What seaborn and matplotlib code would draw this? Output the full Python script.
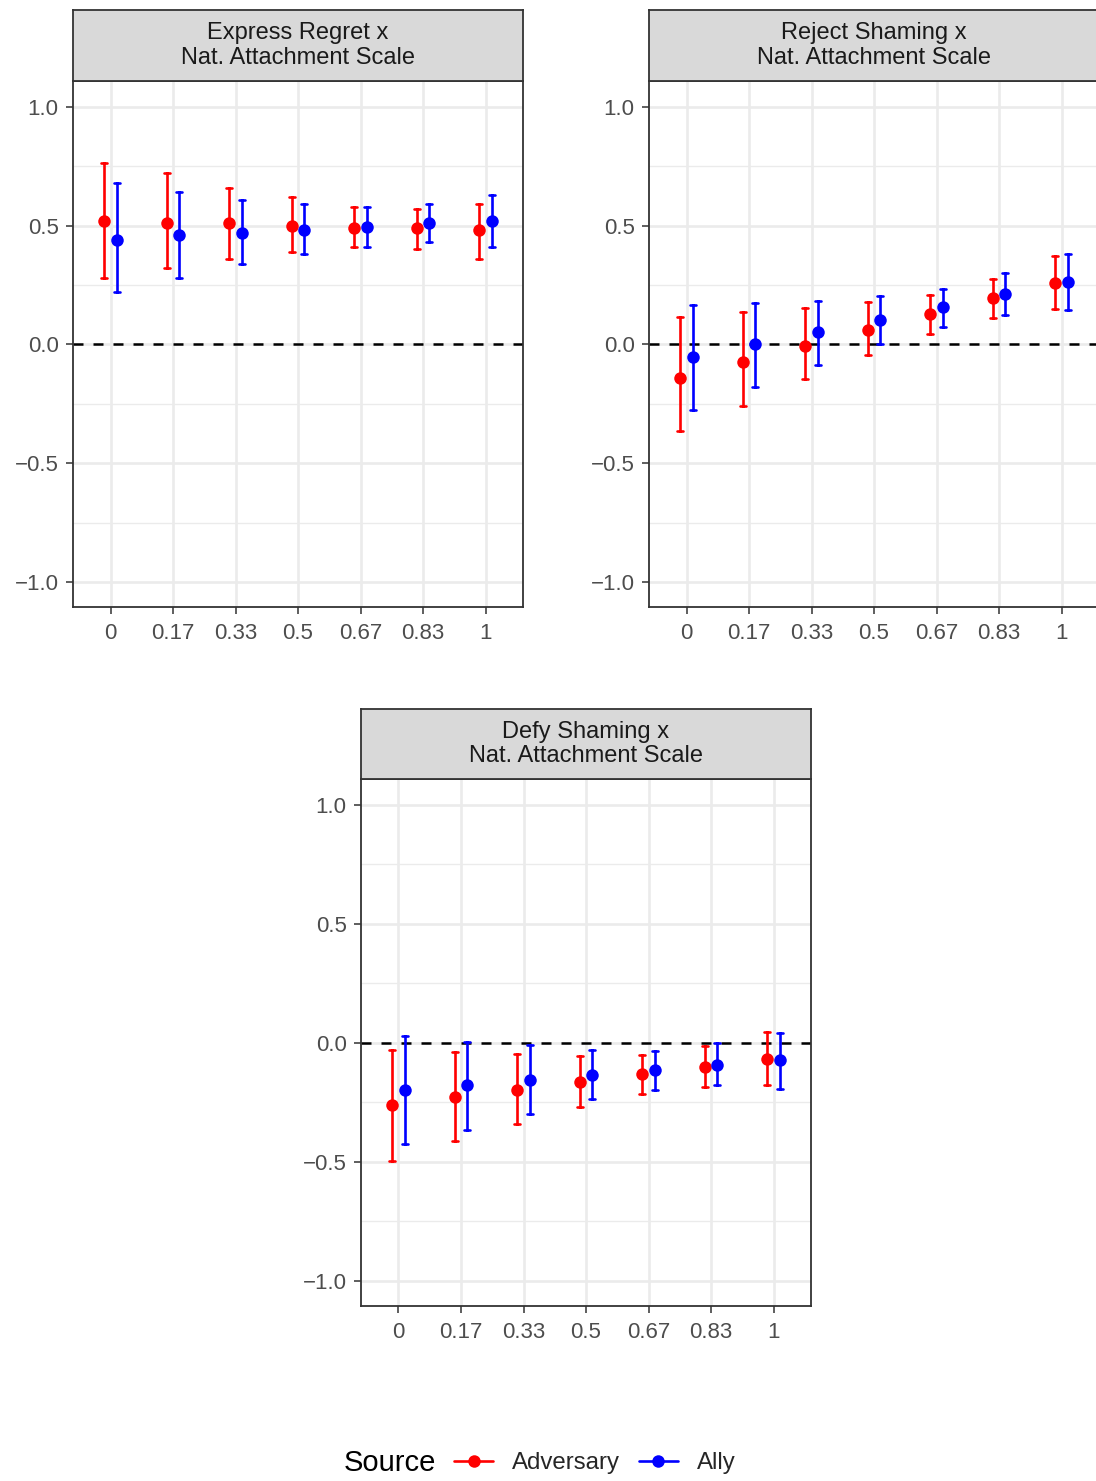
import numpy as np
import pandas as pd
import seaborn as sns
import matplotlib
matplotlib.use("Agg")
import matplotlib.pyplot as plt
from matplotlib.lines import Line2D

sns.set_theme(style="white")
plt.rcParams['font.family'] = ['Liberation Sans', 'DejaVu Sans']

# ---------------- data ----------------
categories = ["0", "0.17", "0.33", "0.5", "0.67", "0.83", "1"]
sources = ["Adversary", "Ally"]
panel_titles = ["Express Regret x\nNat. Attachment Scale",
                "Reject Shaming x\nNat. Attachment Scale",
                "Defy Shaming x\nNat. Attachment Scale"]

regret_adv_est = [0.52, 0.51, 0.51, 0.50, 0.49, 0.49, 0.48]
regret_adv_lo = [0.28, 0.32, 0.36, 0.39, 0.41, 0.40, 0.36]
regret_adv_hi = [0.765, 0.72, 0.66, 0.62, 0.58, 0.57, 0.59]
regret_ally_est = [0.44, 0.46, 0.47, 0.48, 0.495, 0.51, 0.52]
regret_ally_lo = [0.22, 0.28, 0.34, 0.38, 0.41, 0.43, 0.41]
regret_ally_hi = [0.68, 0.64, 0.61, 0.59, 0.58, 0.59, 0.63]

reject_adv_est = [-0.14, -0.073, -0.007, 0.062, 0.128, 0.194, 0.26]
reject_adv_lo = [-0.363, -0.257, -0.146, -0.043, 0.043, 0.111, 0.150]
reject_adv_hi = [0.117, 0.136, 0.153, 0.177, 0.209, 0.274, 0.372]
reject_ally_est = [-0.052, 0.001, 0.053, 0.105, 0.157, 0.211, 0.262]
reject_ally_lo = [-0.275, -0.178, -0.086, 0.003, 0.074, 0.125, 0.147]
reject_ally_hi = [0.168, 0.175, 0.184, 0.206, 0.233, 0.299, 0.379]

defy_adv_est = [-0.262, -0.229, -0.198, -0.166, -0.132, -0.101, -0.069]
defy_adv_lo = [-0.494, -0.412, -0.342, -0.269, -0.215, -0.184, -0.178]
defy_adv_hi = [-0.030, -0.038, -0.046, -0.055, -0.049, -0.014, 0.048]
defy_ally_est = [-0.198, -0.178, -0.157, -0.136, -0.115, -0.094, -0.073]
defy_ally_lo = [-0.426, -0.364, -0.297, -0.236, -0.197, -0.177, -0.193]
defy_ally_hi = [0.031, 0.003, -0.010, -0.030, -0.034, 0.0, 0.042]

y_ticks = [-1.0, -0.5, 0.0, 0.5, 1.0]
y_minor = [-0.75, -0.25, 0.25, 0.75]
y_tick_labels = ["\u22121.0", "\u22120.5", "0.0", "0.5", "1.0"]

palette = {"Adversary": "#FF0000", "Ally": "#0000FF"}


def build_frame(adv, ally):
    rows = []
    for src, (est, lo, hi) in zip(sources, [adv, ally]):
        for c, e, l, h in zip(categories, est, lo, hi):
            for v in (l, e, h):
                rows.append({"x": c, "y": v, "Source": src})
    return pd.DataFrame(rows)


frames = [
    build_frame((regret_adv_est, regret_adv_lo, regret_adv_hi),
                (regret_ally_est, regret_ally_lo, regret_ally_hi)),
    build_frame((reject_adv_est, reject_adv_lo, reject_adv_hi),
                (reject_ally_est, reject_ally_lo, reject_ally_hi)),
    build_frame((defy_adv_est, defy_adv_lo, defy_adv_hi),
                (defy_ally_est, defy_ally_lo, defy_ally_hi)),
]

# ---------------- layout ----------------
W, H = 1096, 1481
fig = plt.figure(figsize=(W / 100, H / 100), dpi=100)

# (left, top_of_strip, top_of_panel, bottom_of_panel) in pixels
boxes = [(73, 10, 81, 607), (649, 10, 81, 607), (361, 709, 779, 1306)]
pw = 450

for frame, title, (l, st, pt, pb) in zip(frames, panel_titles, boxes):
    ax = fig.add_axes([l / W, 1 - pb / H, pw / W, (pb - pt) / H])
    sax = fig.add_axes([l / W, 1 - pt / H, pw / W, (pt - st) / H])

    ax.set_facecolor("white")
    for yy in y_minor:
        ax.axhline(yy, color="#EBEBEB", lw=1.0, zorder=0)
    for yy in y_ticks:
        ax.axhline(yy, color="#EBEBEB", lw=1.9, zorder=0)
    for xx in range(len(categories)):
        ax.axvline(xx, color="#EBEBEB", lw=1.9, zorder=0)
    ax.axhline(0, color="black", lw=1.8, ls=(0, (4, 4)), zorder=1)

    sns.pointplot(data=frame, x="x", y="y", hue="Source", order=categories,
                  hue_order=sources, palette=palette, estimator="median",
                  errorbar=lambda v: (np.min(v), np.max(v)),
                  dodge=0.2, linestyle="none", capsize=0.1,
                  markersize=9, markeredgewidth=0,
                  err_kws={"linewidth": 1.9}, legend=False, ax=ax, zorder=3)

    ax.set_xlim(-0.6, len(categories) - 0.4)
    ax.set_ylim(-1.105, 1.109)
    ax.set_yticks(y_ticks)
    ax.set_yticklabels(y_tick_labels)
    ax.set_xticks(range(len(categories)))
    ax.set_xticklabels(categories)
    ax.set_xlabel("")
    ax.set_ylabel("")
    ax.grid(False)
    ax.tick_params(axis="both", which="major", length=4.8, width=1.1,
                   color="#333333", labelcolor="#4D4D4D", labelsize=16,
                   left=True, bottom=True)
    ax.tick_params(axis="y", pad=5.5)
    ax.tick_params(axis="x", pad=6.5)
    for sp in ax.spines.values():
        sp.set_color("#333333")
        sp.set_linewidth(1.3)
        sp.set_visible(True)

    sax.set_facecolor("#D9D9D9")
    sax.set_xticks([])
    sax.set_yticks([])
    for sp in sax.spines.values():
        sp.set_color("#333333")
        sp.set_linewidth(1.3)
        sp.set_visible(True)
    sax.text(0.5, 0.5, title, ha="center", va="center", fontsize=17,
             color="#1A1A1A", linespacing=1.12, transform=sax.transAxes)

# ---------------- legend ----------------
handles = [Line2D([0], [0], color=palette[s], lw=1.9, marker="o",
                  markersize=9, markeredgewidth=0) for s in sources]
fig.legend(handles, sources, loc="center", ncol=2,
           bbox_to_anchor=(595 / W, 1 - 1463 / H), frameon=False,
           fontsize=17.3, handlelength=1.6, handletextpad=0.8,
           columnspacing=0.8, borderaxespad=0, borderpad=0)
fig.text(390 / W, 1 - 1463 / H, "Source", ha="center", va="center",
         fontsize=21, color="black")

fig.savefig("out.png", dpi=100)
